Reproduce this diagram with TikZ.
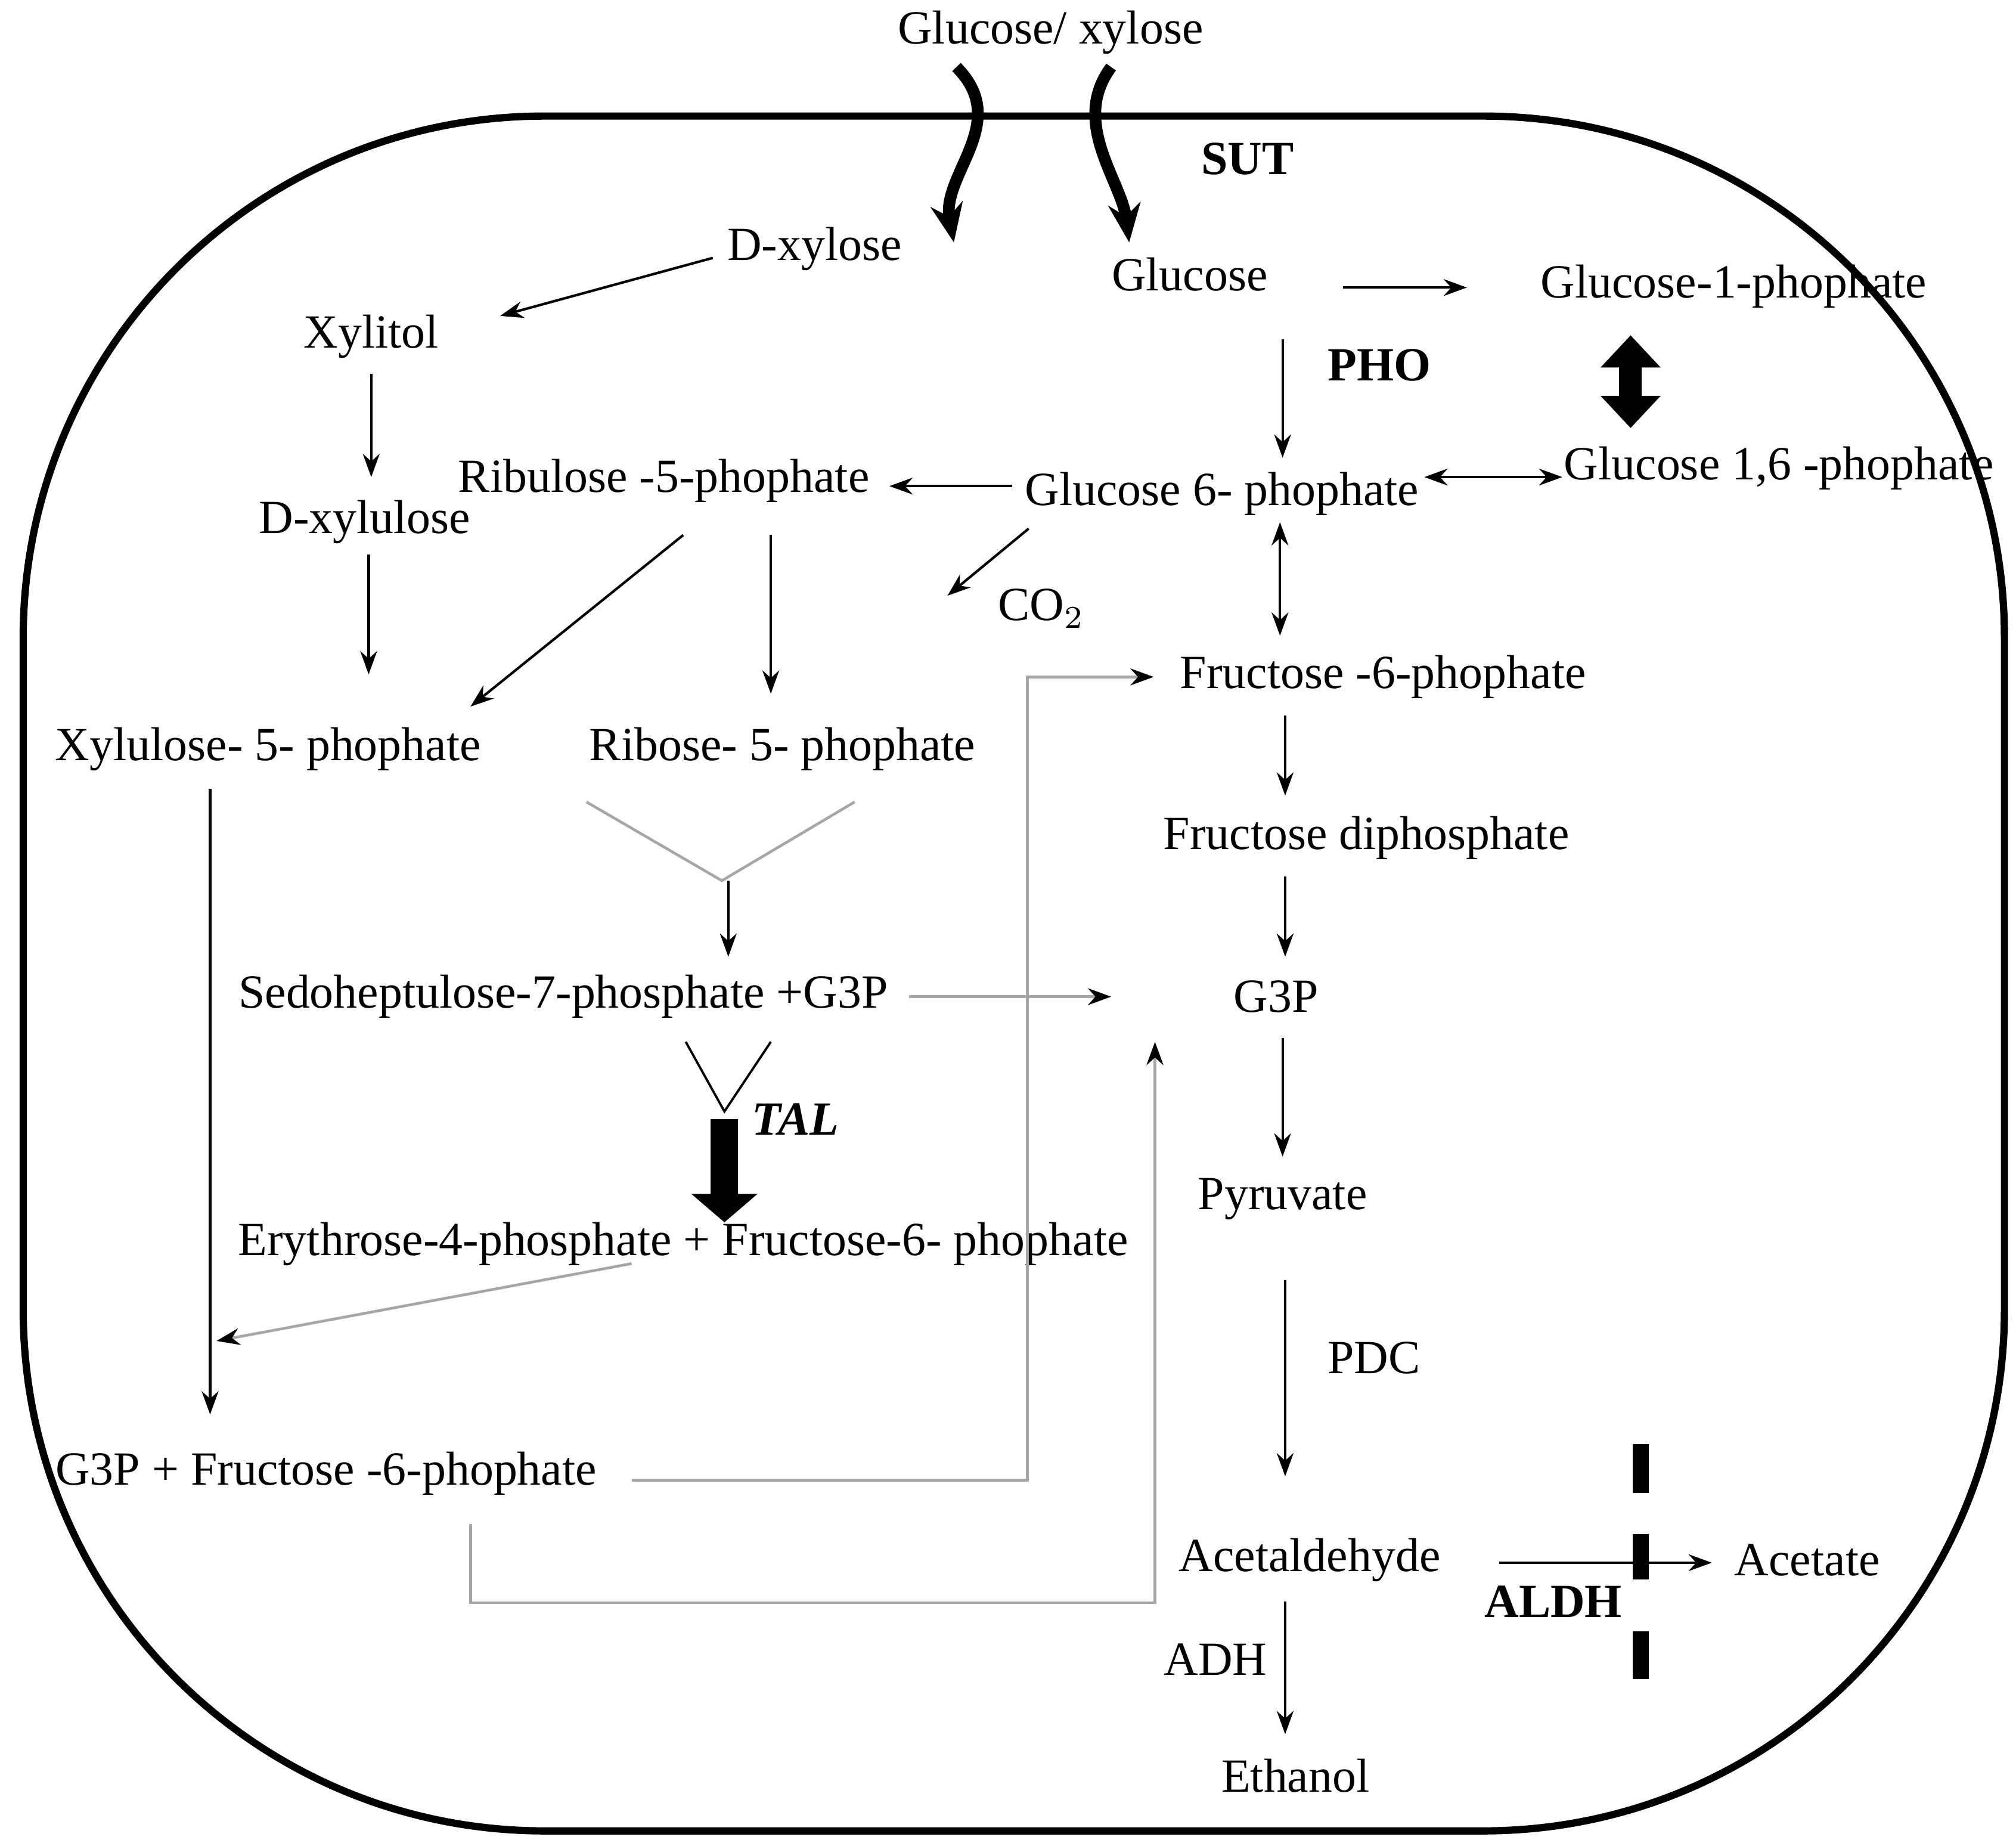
\documentclass[tikz,border=0pt]{standalone}
\usepackage{fontspec}
\setmainfont{Liberation Serif}
\usetikzlibrary{arrows.meta}
\begin{document}
\begin{tikzpicture}[x=0.01cm,y=-0.01cm,
  every node/.style={font=\fontsize{10.5}{12}\selectfont,inner sep=1pt},
  a/.style={draw=black,line width=0.55pt,-{Stealth[length=1.8mm,width=1.3mm]}},
  g/.style={draw=gray!70,line width=0.6pt},
  ga/.style={g,-{Stealth[length=1.8mm,width=1.3mm,color=black]}},
  b/.style={font=\fontsize{10.5}{12}\selectfont\bfseries}]
\useasboundingbox (0,0) rectangle (1564,1429);
\draw[line width=1.6pt,rounded corners=115] (18,90) rectangle (1555,1420);
% texts
\node (gx) at (815,25) {Glucose/ xylose};
\node[b] (sut) at (968,123) {SUT};
\node (dx) at (632,193) {D-xylose};
\node (glc) at (923,213) {Glucose};
\node (g1p) at (1345,222) {Glucose-1-phophate};
\node (xyl) at (288,261) {Xylitol};
\node[b] (pho) at (1070,283) {PHO};
\node (ru5p) at (515,373) {Ribulose -5-phophate};
\node (g6p) at (948,383) {Glucose 6- phophate};
\node (g16p) at (1380,363) {Glucose 1,6 -phophate};
\node (dxu) at (283,405) {D-xylulose};
\node (co2) at (808,472) {CO$_2$};
\node (f6p) at (1073,525) {Fructose -6-phophate};
\node (x5p) at (208,581) {Xylulose- 5- phophate};
\node (r5p) at (607,581) {Ribose- 5- phophate};
\node (fdp) at (1060,650) {Fructose diphosphate};
\node (s7p) at (437,773) {Sedoheptulose-7-phosphate +G3P};
\node (g3p) at (990,773) {G3P};
\node[font=\fontsize{10.5}{12}\selectfont\bfseries\itshape] (tal) at (617,868) {TAL};
\node (pyr) at (995,930) {Pyruvate};
\node (e4p) at (530,965) {Erythrose-4-phosphate + Fructose-6- phophate};
\node (pdc) at (1066,1053) {PDC};
\node (g3pf) at (253,1143) {G3P + Fructose -6-phophate};
\node (acd) at (1016,1210) {Acetaldehyde};
\node (ace) at (1402,1210) {Acetate};
\node[b] (aldh) at (1205,1242) {ALDH};
\node (adh) at (943,1287) {ADH};
\node (eth) at (1005,1377) {Ethanol};
% coordinates
\coordinate (ry) at (560,683);
\coordinate (ty) at (562,862);
\coordinate (x5b) at (163,1097);
\coordinate (e4b) at (168,1040);
\coordinate (g3in) at (862,773);
\coordinate (g3in2) at (896,808);
\coordinate (co2t) at (735,462);
% membrane arrows
\draw[line width=2.6pt,-{Stealth[length=3mm,width=2.5mm]}] (742,52) .. controls (785,95) and (730,135) .. (740,188);
\draw[line width=2.6pt,-{Stealth[length=3mm,width=2.5mm]}] (862,52) .. controls (830,95) and (870,140) .. (876,188);
% arrows
\draw[a] (553,200) -- (388,245);
\draw[a] (288,290) -- (288,370);
\draw[a] (286,430) -- (286,523);
\draw[a] (1042,223) -- (1138,223);
\draw[a] (995,263) -- (995,355);
\draw[line width=5pt,{Triangle[length=2.5mm,width=4.5mm]}-{Triangle[length=2.5mm,width=4.5mm]}] (1265,260) -- (1265,332);
\draw[a,{Stealth[length=1.8mm,width=1.3mm]}-{Stealth[length=1.8mm,width=1.3mm]}] (1105,370) -- (1212,370);
\draw[a] (785,377) -- (690,377);
\draw[a] (798,410) -- (co2t);
\draw[a,{Stealth[length=1.8mm,width=1.3mm]}-{Stealth[length=1.8mm,width=1.3mm]}] (993,405) -- (993,493);
\draw[a] (530,415) -- (365,548);
\draw[a] (598,415) -- (598,538);
\draw[a] (997,555) -- (997,617);
\draw[a] (997,680) -- (997,742);
\draw[a] (995,805) -- (995,897);
\draw[a] (997,993) -- (997,1145);
\draw[a] (997,1242) -- (997,1345);
\draw[a] (1163,1212) -- (1328,1212);
\foreach \ya/\yb in {1120/1158,1190/1225,1265/1302}
  \draw[line width=3.5pt] (1273,\ya) -- (1273,\yb);
\draw[g] (455,622) -- (ry) -- (663,622);
\draw[a] (565,683) -- (565,742);
\draw[ga] (705,773) -- (g3in);
\draw[line width=0.5pt] (532,808) -- (ty) -- (598,808);
\draw[line width=6pt,-{Triangle[length=2.2mm,width=5mm]}] (562,868) -- (562,948);
\draw[a] (163,612) -- (x5b);
\draw[ga] (490,980) -- (e4b);
\draw[ga] (490,1148) -- (797,1148) -- (797,525) -- (895,525);
\draw[ga] (365,1182) -- (365,1243) -- (896,1243) -- (g3in2);
\end{tikzpicture}
\end{document}
